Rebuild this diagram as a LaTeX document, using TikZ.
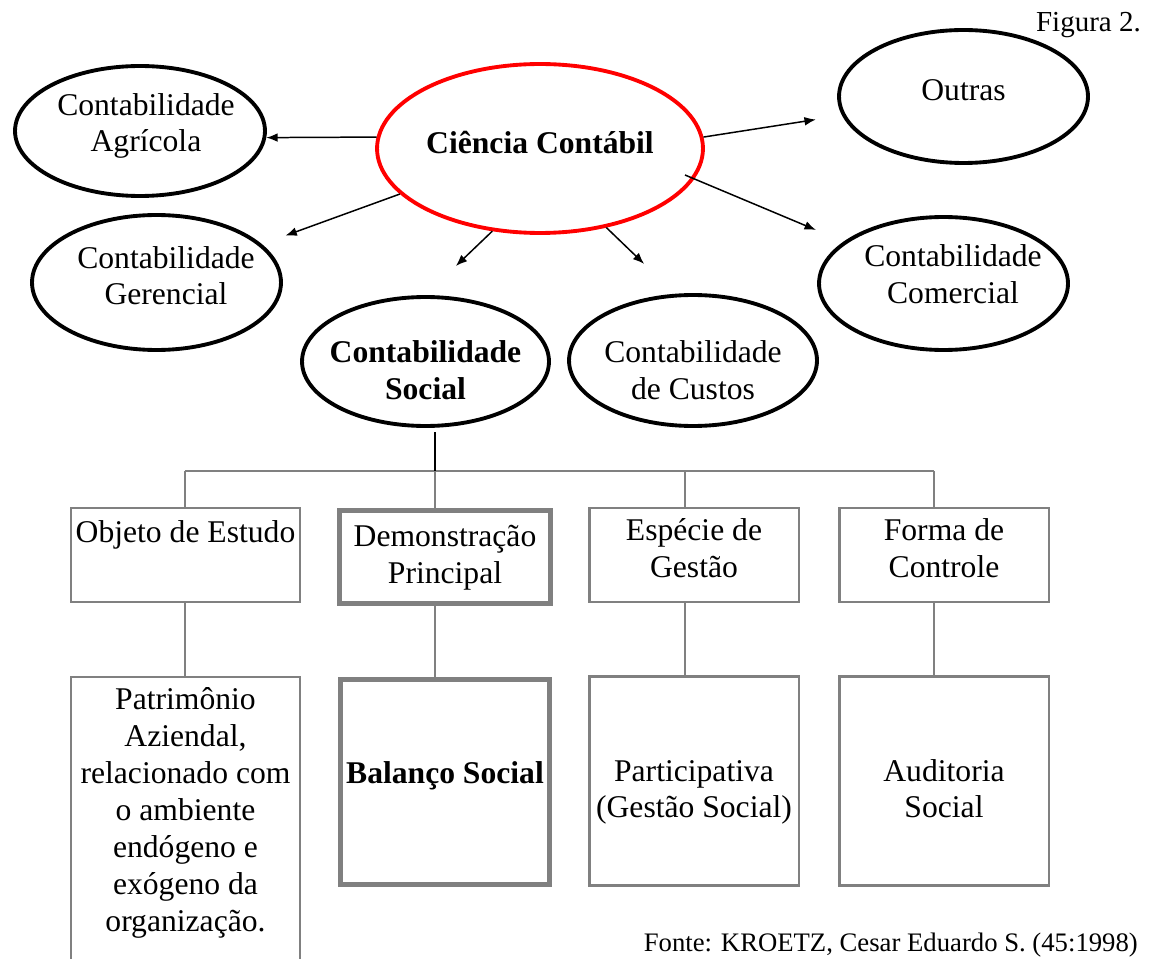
\documentclass[tikz,border=0pt]{standalone}
\usepackage{fontspec}
\setmainfont{Liberation Serif}
\usetikzlibrary{shapes.geometric}
\usetikzlibrary{arrows.meta}
\definecolor{boxgray}{RGB}{128,128,128}
\definecolor{ovalred}{RGB}{255,0,0}

% text inside an oval or box: #1 = twice the x offset, #2 = raise of first baseline
\newcommand{\intext}[3]{\makebox[0pt]{\hspace*{#1}\raisebox{#2}{\begin{tabular}[t]{@{}c@{}}#3\end{tabular}}}}

\begin{document}
\begin{tikzpicture}[x=0.02cm, y=-0.02cm,
  oval/.style={ellipse, draw, line width=2.2pt, minimum width=4.98cm,
    minimum height=2.66cm, inner sep=0pt, text height=0pt, text depth=0pt,
    font=\fontsize{18}{21.05}\selectfont},
  box/.style={rectangle, draw=boxgray, line width=1.4pt, inner sep=0pt,
    text height=0pt, text depth=0pt, font=\fontsize{18}{21.05}\selectfont},
  thickbox/.style={box, line width=2.7pt},
  tree/.style={draw=boxgray, line width=1.4pt},
  arr/.style={-{Latex[length=6.5pt,width=5pt]}, line width=0.85pt}]

\useasboundingbox (0,0) rectangle (1152,959);
\clip (0,0) rectangle (1152,959);

%---------------------------------------
% Ovals
%---------------------------------------
\node[oval, draw=ovalred, minimum width=6.52cm, minimum height=3.38cm]
  (cc) at (540,148.5) {\intext{0pt}{-2.6pt}{\textbf{Ciência Contábil}}};

\node[oval, minimum width=5cm, minimum height=2.6cm]
  (agr) at (140,131) {\intext{6.8pt}{9.1pt}{Contabilidade\\Agrícola}};
\node[oval, minimum height=2.7cm]
  (ger) at (156.5,282.5) {\intext{10.8pt}{8.25pt}{Contabilidade\\Gerencial}};
\node[oval] (out) at (963.5,96.5) {\intext{0pt}{-2pt}{Outras}};
\node[oval] (com) at (943.5,283.5) {\intext{10.8pt}{9.4pt}{Contabilidade\\Comercial}};
\node[oval, minimum width=4.94cm, minimum height=2.58cm]
  (soc) at (425.5,361.5) {\intext{0pt}{-0.85pt}{\textbf{Contabilidade}\\\textbf{Social}}};
\node[oval, minimum width=4.96cm, minimum height=2.62cm]
  (cus) at (693,360.5) {\intext{0pt}{-1.4pt}{Contabilidade\\de Custos}};

% Arrows out of Ciencia Contabil
\coordinate (ccin) at (685,175);
\draw[arr] (cc.176) -- (agr.-3);
\draw[arr, shorten >=0.5cm] (cc.198) -- (ger);
\draw[arr, shorten >=0.84cm] (cc.240) -- (soc.north);
\draw[arr, shorten >=0.86cm] (cc.310) -- (cus.105);
\draw[arr, shorten >=0.53cm] (cc.4) -- (out);
\draw[arr, shorten >=0.6cm] (ccin) -- (com);

%---------------------------------------
% Boxes
%---------------------------------------
\node[box, minimum width=4.58cm, minimum height=1.88cm]
  (obj) at (185.5,555) {\intext{0pt}{7.4pt}{Objeto de Estudo}};
\node[thickbox, minimum width=4.23cm, minimum height=1.87cm]
  (dem) at (445,557) {\intext{0pt}{6pt}{Demonstração\\Principal}};
\node[box, minimum width=4.19cm, minimum height=1.87cm]
  (esp) at (694,555) {\intext{0pt}{8.5pt}{Espécie de\\Gestão}};
\node[box, minimum width=4.19cm, minimum height=1.87cm]
  (ctl) at (944,555) {\intext{0pt}{8.5pt}{Forma de\\Controle}};

\node[box, minimum width=4.58cm, minimum height=6.26cm]
  (pat) at (185.5,833.5) {\intext{0pt}{70.3pt}{Patrimônio\\Aziendal,\\relacionado com\\o ambiente\\endógeno e\\exógeno da\\organização.}};
\node[thickbox, minimum width=4.19cm, minimum height=4.11cm]
  (bal) at (445,782) {\intext{0pt}{-0.57pt}{\textbf{Balanço Social}}};
\node[box, minimum width=4.19cm, minimum height=4.18cm]
  (par) at (694,781) {\intext{0pt}{0pt}{Participativa\\(Gestão Social)}};
\node[box, minimum width=4.19cm, minimum height=4.18cm]
  (aud) at (944,781) {\intext{0pt}{0pt}{Auditoria\\Social}};

% Tree
\coordinate (b1) at (185,471);
\coordinate (b2) at (435,471);
\coordinate (b3) at (685,471);
\coordinate (b4) at (934,471);
\draw[tree] (b1) -- (b4);
\foreach \b/\u/\l in {b1/obj/pat, b2/dem/bal, b3/esp/par, b4/ctl/aud} {
  \draw[tree] (\b) -- (\b |- \u.north);
  \draw[tree] (\b |- \u.south) -- (\b |- \l.north);
}
\draw[line width=0.8pt, shorten <=2.5pt] (b2 |- soc.south) -- (b2);

% Captions
\node[anchor=base east, font=\fontsize{16.5}{19}\selectfont]
  (fig) at (1147,32) {Figura 2.};
\node[anchor=base east, font=\fontsize{15.2}{18}\selectfont]
  (src) at (1144,951) {Fonte: KROETZ, Cesar Eduardo S. (45:1998)};

\end{tikzpicture}
\end{document}
